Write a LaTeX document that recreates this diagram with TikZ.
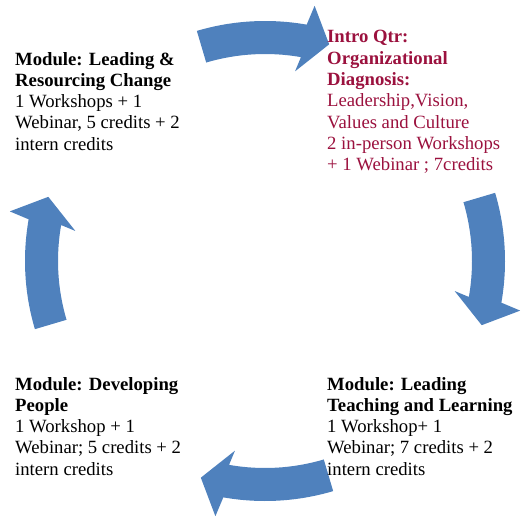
\documentclass[tikz,border=0pt]{standalone}
\usepackage{fontspec}
\setmainfont{Liberation Serif}
\definecolor{arrowblue}{HTML}{4F81BD}
\definecolor{introred}{RGB}{155,17,62}
\begin{document}
\begin{tikzpicture}[x=1pt,y=1pt,
    cyclearrow/.style={fill=arrowblue},
    module/.style={anchor=base west,align=left,inner sep=0pt,font=\fontsize{18.7}{21.3}\selectfont}]
    \useasboundingbox (0,0) rectangle (532,-516);
    \coordinate (hub) at (265,-261);
    \foreach \a in {90,0,-90,180}
      \fill[cyclearrow,shift={(hub)}] ({\a+16.5}:240) arc[start angle=\a+16.5,end angle=\a-10,radius=240]
        -- ({\a-11}:260) -- ({\a-16.5}:226) -- ({\a-9}:192) -- ({\a-10}:207)
        arc[start angle=\a-10,end angle=\a+16.5,radius=207] -- cycle;
    % base anchor sits on the last line
    \node[module,text=introred] (intro) at (327,-170.8) {\textbf{Intro Qtr:}\\\textbf{Organizational}\\\textbf{Diagnosis:}\\Leadership,Vision,\\Values and Culture\\2 in-person Workshops\\+ 1 Webinar ; 7credits};
    \node[module] (teaching) at (327,-475.2) {\textbf{Module: Leading}\\\textbf{Teaching and Learning}\\1 Workshop+ 1\\Webinar; 7 credits + 2\\intern credits};
    \node[module] (people) at (15,-475.2) {\textbf{Module: Developing}\\\textbf{People}\\1 Workshop + 1\\Webinar; 5 credits + 2\\intern credits};
    \node[module] (change) at (15,-150.2) {\textbf{Module: Leading \&}\\\textbf{Resourcing Change}\\1 Workshops + 1\\Webinar, 5 credits + 2\\intern credits};
\end{tikzpicture}
\end{document}
